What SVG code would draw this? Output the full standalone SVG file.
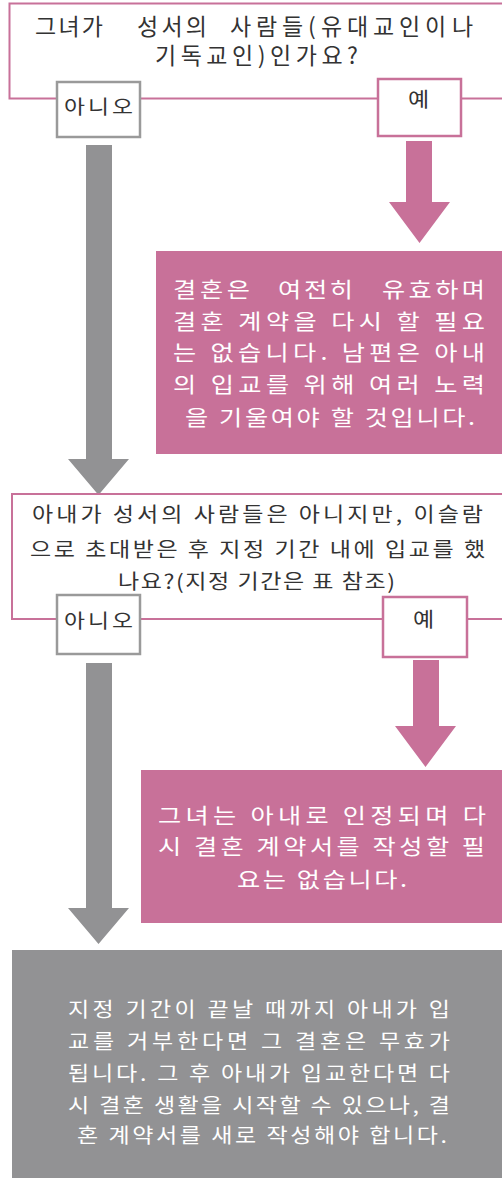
<svg xmlns="http://www.w3.org/2000/svg" width="502" height="1178" viewBox="0 0 502 1178">
<style>
text{font-family:"Noto Sans CJK KR","Noto Sans",sans-serif;font-weight:400}
.q{fill:#333;font-size:23px}
.q2{fill:#333;font-size:20px}
.lbl{fill:#333;font-size:19px}
.yes{fill:#333;font-size:20px}
.w{fill:#fff;font-size:21px}
.wg{fill:#fff;font-size:20px}
.pinkline{fill:none;stroke:#c87199;stroke-width:2}
.grayline{fill:#fff;stroke:#9a9a9a;stroke-width:2.5}
.pinklbl{fill:#fff;stroke:#c87199;stroke-width:2.5}
.pinkfill{fill:#c87199}
.grayfill{fill:#929294}
</style>
<g id="q1">
<rect class="pinkline" x="9.5" y="3.5" width="500" height="95"/>
<text class="q" y="35"><tspan x="35" textLength="68" lengthAdjust="spacing">그녀가</tspan> <tspan x="137" textLength="70" lengthAdjust="spacing">성서의</tspan> <tspan x="230 256 282 308 321 347 373 399 425 452">사람들(유대교인이나</tspan></text>
<text class="q" x="155" y="64" textLength="203" lengthAdjust="spacing">기독교인)인가요?</text>
</g>
<g id="q1-no">
<rect class="grayline" x="57" y="82" width="83" height="55"/>
<text class="lbl" transform="translate(64,114) scale(1.2,1)" textLength="57.5" lengthAdjust="spacing">아니오</text>
</g>
<g id="q1-yes">
<rect class="pinklbl" x="378" y="79" width="83" height="57"/>
<text class="yes" transform="translate(408,107) scale(1.15,1)">예</text>
</g>
<g id="connectors">
<polygon class="grayfill" points="86,145 112,145 112,459 129,459 98.5,495 68,459 86,459"/>
<polygon class="pinkfill" points="406,141 432,141 432,202 450,202 419.5,243 389,202 406,202"/>
<polygon class="grayfill" points="86,663 112,663 112,908 129,908 98.5,944 68,908 86,908"/>
<polygon class="pinkfill" points="413,660 439,660 439,726 456,726 425.5,767 395,726 413,726"/>
</g>
<g id="result1">
<rect class="pinkfill" x="156" y="251" width="346" height="203"/>
<text class="w" transform="translate(173,297) scale(1.2,1)"><tspan x="0" textLength="64.2" lengthAdjust="spacing">결혼은</tspan> <tspan x="87.5" textLength="62.5" lengthAdjust="spacing">여전히</tspan> <tspan x="174.2" textLength="85.8" lengthAdjust="spacing">유효하며</tspan></text>
<text class="w" transform="translate(173,329) scale(1.2,1)" textLength="260" lengthAdjust="spacing">결혼 계약을 다시 할 필요</text>
<text class="w" transform="translate(173,360) scale(1.2,1)" textLength="260" lengthAdjust="spacing">는 없습니다. 남편은 아내</text>
<text class="w" transform="translate(173,392) scale(1.2,1)" textLength="260" lengthAdjust="spacing">의 입교를 위해 여러 노력</text>
<text class="w" transform="translate(185,425) scale(1.2,1)" textLength="241.7" lengthAdjust="spacing">을 기울여야 할 것입니다.</text>
</g>
<g id="q2">
<rect class="pinkline" x="12" y="494" width="500" height="125"/>
<text class="q2" transform="translate(32,522) scale(1.15,1)" textLength="392.2" lengthAdjust="spacing">아내가 성서의 사람들은 아니지만, 이슬람</text>
<text class="q2" transform="translate(30,557) scale(1.15,1)" textLength="395.7" lengthAdjust="spacing">으로 초대받은 후 지정 기간 내에 입교를 했</text>
<text class="q2" transform="translate(118,589) scale(1.15,1)" textLength="240.9" lengthAdjust="spacing">나요?(지정 기간은 표 참조)</text>
</g>
<g id="q2-no">
<rect class="grayline" x="57" y="595" width="83" height="59"/>
<text class="lbl" transform="translate(64,628) scale(1.2,1)" textLength="57.5" lengthAdjust="spacing">아니오</text>
</g>
<g id="q2-yes">
<rect class="pinklbl" x="383" y="597" width="84" height="60"/>
<text class="yes" transform="translate(413,627) scale(1.15,1)">예</text>
</g>
<g id="result2">
<rect class="pinkfill" x="141" y="770" width="361" height="153"/>
<text class="w" transform="translate(158,823) scale(1.2,1)" textLength="273.3" lengthAdjust="spacing">그녀는 아내로 인정되며 다</text>
<text class="w" transform="translate(158,854) scale(1.2,1)" textLength="272.5" lengthAdjust="spacing">시 결혼 계약서를 작성할 필</text>
<text class="w" transform="translate(237,887) scale(1.2,1)" textLength="141.7" lengthAdjust="spacing">요는 없습니다.</text>
</g>
<g id="result3">
<rect class="grayfill" x="12" y="950" width="490" height="228"/>
<text class="wg" transform="translate(68,1017) scale(1.15,1)" textLength="332.2" lengthAdjust="spacing">지정 기간이 끝날 때까지 아내가 입</text>
<text class="wg" transform="translate(68,1049) scale(1.15,1)" textLength="332.2" lengthAdjust="spacing">교를 거부한다면 그 결혼은 무효가</text>
<text class="wg" transform="translate(68,1081) scale(1.15,1)" textLength="332.2" lengthAdjust="spacing">됩니다. 그 후 아내가 입교한다면 다</text>
<text class="wg" transform="translate(68,1113) scale(1.15,1)" textLength="332.2" lengthAdjust="spacing">시 결혼 생활을 시작할 수 있으나, 결</text>
<text class="wg" transform="translate(77,1143) scale(1.15,1)" textLength="321.7" lengthAdjust="spacing">혼 계약서를 새로 작성해야 합니다.</text>
</g>
</svg>
